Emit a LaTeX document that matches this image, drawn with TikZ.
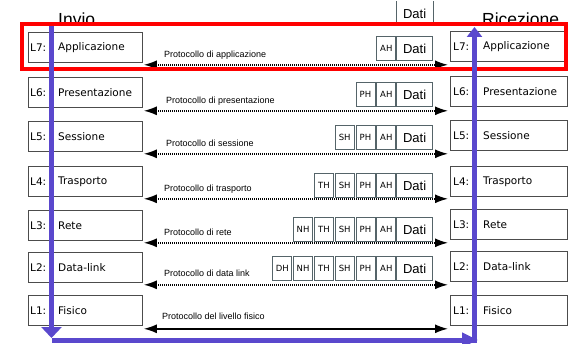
\documentclass[tikz,border=0pt]{standalone}
\usepackage{fontspec}
\setmainfont{DejaVu Sans}
\newfontfamily\arialfont{Liberation Sans}
\usetikzlibrary{positioning,arrows.meta}
\definecolor{stackblue}{RGB}{90,72,205}
\definecolor{hdrline}{RGB}{85,100,105}
\tikzset{
  layerbox/.style={draw=black!70, line width=0.8pt, minimum width=114pt, minimum height=30pt, inner sep=0pt, anchor=north west},
  rlayerbox/.style={layerbox, minimum width=117pt},
  layertext/.style={anchor=west, inner sep=0pt, font=\fontsize{10.5}{12}\selectfont},
  hdrbox/.style={draw=hdrline, line width=0.8pt, minimum width=19pt, minimum height=24pt, inner sep=0pt, font=\fontsize{8.5}{9}\selectfont},
  datibox/.style={hdrbox, minimum width=36pt, font=\arialfont\fontsize{13}{14}\selectfont},
  proto/.style={{Latex[length=13pt,width=9pt]}-{Latex[length=13pt,width=9pt]}, line width=1.5pt, shorten >=2pt, shorten <=1pt},
  protodots/.style={proto, dash pattern=on 1.2pt off 0.8pt},
  protolabel/.style={anchor=base west, inner sep=0pt, font=\arialfont\fontsize{9}{10}\selectfont},
  sidetitle/.style={anchor=base west, inner sep=0pt, font=\arialfont\fontsize{17.5}{18}\selectfont},
  flow/.style={draw=stackblue, line width=5pt},
}
\begin{document}
\begin{tikzpicture}[x=1pt,y=-1pt]
  \useasboundingbox (0,0) rectangle (572,344);

  % titoli
  \node[sidetitle] (invio) at (58,26) {Invio};
  \node[sidetitle] (ricez) at (482,26) {Ricezione};
  \node[datibox, draw=none, anchor=south east] (d0) at (433,26) {Dati};
  \draw[hdrline, line width=0.8pt] (d0.north west) -- (d0.south west) (d0.north east) -- (d0.south east);

  % pila di invio
  \node[layerbox] (s7) at (28,32) {};
  \node[layerbox] (s6) at (28,77) {};
  \node[layerbox] (s5) at (28,121) {};
  \node[layerbox] (s4) at (28,166) {};
  \node[layerbox] (s3) at (28,210) {};
  \node[layerbox] (s2) at (28,252) {};
  \node[layerbox] (s1) at (28,295) {};
  \node[layertext] (s7l) at ([xshift=2pt]s7.west) {L7:};
  \node[layertext] (s6l) at ([xshift=2pt]s6.west) {L6:};
  \node[layertext] (s5l) at ([xshift=2pt]s5.west) {L5:};
  \node[layertext] (s4l) at ([xshift=2pt]s4.west) {L4:};
  \node[layertext] (s3l) at ([xshift=2pt]s3.west) {L3:};
  \node[layertext] (s2l) at ([xshift=2pt]s2.west) {L2:};
  \node[layertext] (s1l) at ([xshift=2pt]s1.west) {L1:};
  \node[layertext] (s7t) at ([xshift=30pt]s7.west) {Applicazione};
  \node[layertext] (s6t) at ([xshift=30pt]s6.west) {Presentazione};
  \node[layertext] (s5t) at ([xshift=30pt]s5.west) {Sessione};
  \node[layertext] (s4t) at ([xshift=30pt]s4.west) {Trasporto};
  \node[layertext] (s3t) at ([xshift=30pt]s3.west) {Rete};
  \node[layertext] (s2t) at ([xshift=30pt]s2.west) {Data-link};
  \node[layertext] (s1t) at ([xshift=30pt]s1.west) {Fisico};

  % pila di ricezione
  \node[rlayerbox] (r7) at (450,31) {};
  \node[rlayerbox] (r6) at (450,76) {};
  \node[rlayerbox] (r5) at (450,120) {};
  \node[rlayerbox] (r4) at (450,166) {};
  \node[rlayerbox] (r3) at (450,209) {};
  \node[rlayerbox] (r2) at (450,251) {};
  \node[rlayerbox] (r1) at (450,295) {};
  \node[layertext] (r7l) at ([xshift=3pt]r7.west) {L7:};
  \node[layertext] (r6l) at ([xshift=3pt]r6.west) {L6:};
  \node[layertext] (r5l) at ([xshift=3pt]r5.west) {L5:};
  \node[layertext] (r4l) at ([xshift=3pt]r4.west) {L4:};
  \node[layertext] (r3l) at ([xshift=3pt]r3.west) {L3:};
  \node[layertext] (r2l) at ([xshift=3pt]r2.west) {L2:};
  \node[layertext] (r1l) at ([xshift=3pt]r1.west) {L1:};
  \node[layertext] (r7t) at ([xshift=33pt]r7.west) {Applicazione};
  \node[layertext] (r6t) at ([xshift=33pt]r6.west) {Presentazione};
  \node[layertext] (r5t) at ([xshift=33pt]r5.west) {Sessione};
  \node[layertext] (r4t) at ([xshift=33pt]r4.west) {Trasporto};
  \node[layertext] (r3t) at ([xshift=33pt]r3.west) {Rete};
  \node[layertext] (r2t) at ([xshift=33pt]r2.west) {Data-link};
  \node[layertext] (r1t) at ([xshift=33pt]r1.west) {Fisico};

  % intestazioni
  \node[datibox, anchor=north east] (d7) at (433,36) {Dati};
  \node[hdrbox, left=0pt of d7] (a7) {AH};

  \node[datibox, anchor=north east] (d6) at (433,82) {Dati};
  \node[hdrbox, left=0pt of d6] (a6) {AH};
  \node[hdrbox, left=1pt of a6] (p6) {PH};

  \node[datibox, anchor=north east] (d5) at (433,125) {Dati};
  \node[hdrbox, left=0pt of d5] (a5) {AH};
  \node[hdrbox, left=1pt of a5] (p5) {PH};
  \node[hdrbox, left=1pt of p5] (q5) {SH};

  \node[datibox, anchor=north east] (d4) at (433,173) {Dati};
  \node[hdrbox, left=0pt of d4] (a4) {AH};
  \node[hdrbox, left=1pt of a4] (p4) {PH};
  \node[hdrbox, left=1pt of p4] (q4) {SH};
  \node[hdrbox, left=1pt of q4] (t4) {TH};

  \node[datibox, anchor=north east] (d3) at (433,217) {Dati};
  \node[hdrbox, left=0pt of d3] (a3) {AH};
  \node[hdrbox, left=1pt of a3] (p3) {PH};
  \node[hdrbox, left=1pt of p3] (q3) {SH};
  \node[hdrbox, left=1pt of q3] (t3) {TH};
  \node[hdrbox, left=1pt of t3] (n3) {NH};

  \node[datibox, anchor=north east] (d2) at (433,256) {Dati};
  \node[hdrbox, left=0pt of d2] (a2) {AH};
  \node[hdrbox, left=1pt of a2] (p2) {PH};
  \node[hdrbox, left=1pt of p2] (q2) {SH};
  \node[hdrbox, left=1pt of q2] (t2) {TH};
  \node[hdrbox, left=1pt of t2] (n2) {NH};
  \node[hdrbox, left=1pt of n2] (k2) {DH};

  % protocolli tra pari
  \draw[protodots] ([yshift=-2pt]s7.south east) -- ([yshift=-2pt]s7.south east -| r7.west);
  \draw[protodots] ([yshift=-3pt]s6.south east) -- ([yshift=-3pt]s6.south east -| r6.west);
  \draw[protodots] ([yshift=-2pt]s5.south east) -- ([yshift=-2pt]s5.south east -| r5.west);
  \draw[protodots] ([yshift=-2pt]s4.south east) -- ([yshift=-2pt]s4.south east -| r4.west);
  \draw[protodots] ([yshift=-2pt]s3.south east) -- ([yshift=-2pt]s3.south east -| r3.west);
  \draw[protodots] ([yshift=-2pt]s2.south east) -- ([yshift=-2pt]s2.south east -| r2.west);
  \draw[proto] ([yshift=-3pt]s1.south east) -- ([yshift=-3pt]s1.south east -| r1.west);
  \node[protolabel] (pl7) at ([xshift=21pt,yshift=5pt]s7.south east) {Protocollo di applicazione};
  \node[protolabel] (pl6) at ([xshift=23pt,yshift=4pt]s6.south east) {Protocollo di presentazione};
  \node[protolabel] (pl5) at ([xshift=23pt,yshift=5pt]s5.south east) {Protocollo di sessione};
  \node[protolabel] (pl4) at ([xshift=21pt,yshift=5pt]s4.south east) {Protocollo di trasporto};
  \node[protolabel] (pl3) at ([xshift=21pt,yshift=5pt]s3.south east) {Protocollo di rete};
  \node[protolabel] (pl2) at ([xshift=21pt,yshift=6pt]s2.south east) {Protocollo di data link};
  \node[protolabel] (pl1) at ([xshift=19pt,yshift=6pt]s1.south east) {Protocollo del livello fisico};

  % livello evidenziato
  \draw[red, line width=4pt] (22,24) rectangle (566,69);

  % percorso dei dati
  \coordinate (sendtop) at (51.5,26);
  \coordinate (sendbot) at (51.5,338);
  \coordinate (wireleft) at (51.5,340);
  \coordinate (wireright) at (478,340);
  \coordinate (recvbot) at (474.5,342.5);
  \coordinate (recvtop) at (474.5,27);
  \draw[flow, -{Triangle[width=20pt,length=11pt]}] (sendtop) -- (sendbot);
  \draw[flow, -{Triangle[width=14pt,length=16pt]}] (wireleft) -- (wireright);
  \draw[flow, -{Triangle[width=15pt,length=10pt]}] (recvbot) -- (recvtop);
\end{tikzpicture}
\end{document}
